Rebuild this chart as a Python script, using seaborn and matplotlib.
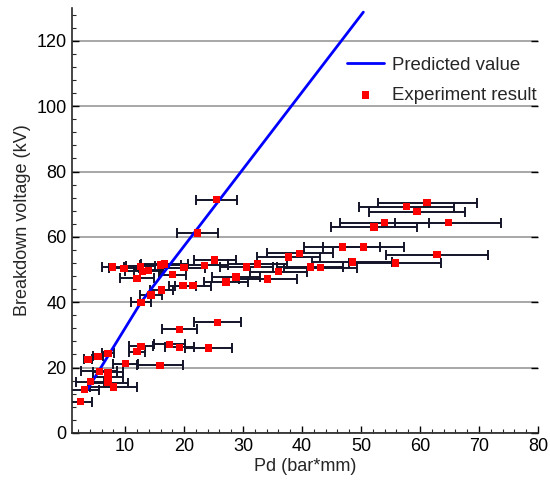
import matplotlib
matplotlib.use("Agg")
import matplotlib.pyplot as plt
from matplotlib.ticker import MultipleLocator
import seaborn as sns
import pandas as pd

# Predicted curve
pred_pd = [3.5, 5.9, 12.7, 50.4]
pred_v = [13.0, 20.0, 40.0, 128.8]

# Experiment results: Pd, breakdown voltage, Pd error (half width)
exp_pd = [2.4, 3.1, 4.1, 7.1, 8.0, 7.1, 7.1, 5.6, 3.7, 5.4, 7.1,
          10.0, 15.9, 12.0, 12.7, 17.5, 19.2, 24.1, 19.2, 25.6,
          12.7, 14.4, 16.2, 19.8, 21.5, 12.0, 7.9, 9.8, 12.6, 13.0,
          14.0, 16.0, 16.7, 18.0, 20.0, 23.4, 25.2, 27.1, 28.8, 30.6,
          32.4, 34.2, 36.0, 37.7, 39.6, 41.4, 43.1, 46.8, 50.4, 48.5,
          55.8, 62.9, 52.2, 54.0, 64.8, 57.7, 59.5, 61.2, 22.3, 25.5]
exp_v = [9.5, 13.2, 15.7, 15.3, 14.0, 17.0, 18.5, 18.8, 22.5, 23.4, 24.4,
         21.2, 20.7, 24.9, 26.5, 27.1, 26.2, 26.0, 31.7, 33.8,
         40.0, 42.2, 43.7, 45.0, 45.0, 47.3, 50.8, 50.4, 51.0, 49.5,
         49.8, 51.4, 51.7, 48.4, 50.6, 51.3, 52.9, 46.2, 47.7, 50.8,
         51.7, 47.1, 49.3, 53.8, 55.0, 50.8, 50.5, 56.9, 56.9, 52.3,
         52.0, 54.5, 63.0, 64.3, 64.3, 69.2, 67.7, 70.5, 61.2, 71.4]
exp_err = [2.0, 2.5, 2.4, 3.4, 4.0, 2.5, 2.5, 3.0, 0.6, 0.9, 1.0,
           2.1, 3.9, 1.3, 2.0, 2.6, 2.5, 4.0, 3.0, 4.0,
           1.7, 1.8, 2.0, 2.3, 3.0, 2.9, 1.9, 2.5, 2.5, 3.0,
           2.5, 3.5, 4.0, 2.3, 3.5, 4.0, 3.6, 3.8, 4.0, 4.5,
           5.0, 4.9, 4.9, 5.4, 5.6, 5.6, 6.2, 6.5, 6.9, 6.8,
           7.8, 8.7, 7.3, 7.5, 9.0, 8.0, 8.2, 8.4, 3.5, 3.5]

sns.set_style("ticks")
plt.rcParams['font.family'] = ['Liberation Sans', 'DejaVu Sans']

fig = plt.figure(figsize=(5.5, 4.82), dpi=100)
ax = fig.add_axes([0.131, 0.102, 0.847, 0.881])

pred_df = pd.DataFrame({"Pd": pred_pd, "V": pred_v})
exp_df = pd.DataFrame({"Pd": exp_pd, "V": exp_v, "err": exp_err})

ax.errorbar(exp_df["Pd"], exp_df["V"], xerr=exp_df["err"], fmt="none",
            ecolor="#14142a", elinewidth=1.4, capsize=3.5, capthick=1.4, zorder=2)
sns.lineplot(data=pred_df, x="Pd", y="V", ax=ax, color="#0000ff", linewidth=2,
             label="Predicted value", sort=False, zorder=3)
sns.scatterplot(data=exp_df, x="Pd", y="V", ax=ax, marker="s", color="#ff0000",
                s=27, edgecolor="none", label="Experiment result", zorder=4)

ax.set_xlim(1, 80)
ax.set_ylim(0, 130)
ax.xaxis.set_major_locator(MultipleLocator(10))
ax.xaxis.set_minor_locator(MultipleLocator(2))
ax.yaxis.set_major_locator(MultipleLocator(20))
ax.yaxis.set_minor_locator(MultipleLocator(4))
ax.grid(axis="y", which="major", color="#a0a0a0", linewidth=1.3)
ax.set_axisbelow(True)
for s in ["top", "right"]:
    ax.spines[s].set_visible(False)
ax.spines["left"].set_linewidth(1.2)
ax.spines["bottom"].set_linewidth(1.2)
ax.tick_params(axis="both", which="major", direction="in", length=5, width=1,
               labelsize=13, colors="black", pad=4)
ax.tick_params(axis="both", which="minor", direction="in", length=3, width=0.8)
ax.tick_params(axis="y", which="major", right=True)
ax.set_xlabel("Pd (bar*mm)", fontsize=13, labelpad=2)
ax.set_ylabel("Breakdown voltage (kV)", fontsize=13, labelpad=4)

leg = ax.legend(loc="upper right", bbox_to_anchor=(1.034, 0.925), frameon=False,
                fontsize=13.4, handlelength=2.0, handletextpad=0.45, labelspacing=0.7)

fig.savefig("out.png", dpi=100)
